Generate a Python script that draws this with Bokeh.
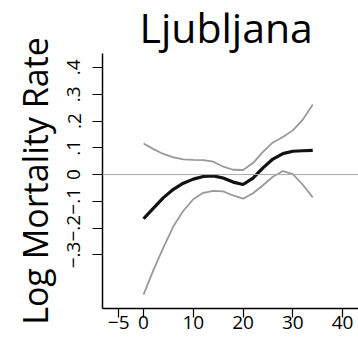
from bokeh.plotting import figure
from bokeh.models import Range1d, FixedTicker, Span
from bokeh.embed import file_html
from bokeh.resources import INLINE

# Temperature grid (°C) and smoothed log mortality rate with confidence bounds
temp = [0, 2, 4, 6, 8, 10, 12, 14, 16, 18, 20, 22, 24, 26, 28, 30, 32, 34]
fit = [-0.165, -0.125, -0.086, -0.055, -0.032, -0.017, -0.007, -0.005, -0.013,
       -0.028, -0.037, -0.013, 0.025, 0.058, 0.078, 0.087, 0.089, 0.090]
upper = [0.116, 0.095, 0.077, 0.064, 0.057, 0.055, 0.054, 0.048, 0.030,
         0.018, 0.017, 0.043, 0.085, 0.120, 0.140, 0.165, 0.205, 0.262]
lower = [-0.448, -0.356, -0.272, -0.193, -0.135, -0.092, -0.068, -0.061, -0.063,
         -0.078, -0.090, -0.070, -0.040, -0.008, 0.013, 0.002, -0.038, -0.085]

x_ticks = [-5, 0, 10, 20, 30, 40]
x_labels = ["\u22125", "0", "10", "20", "30", "40"]
y_ticks = [-0.3, -0.2, -0.1, 0.0, 0.1, 0.2, 0.3, 0.4]
y_labels = ["\u2212.3", "\u2212.2", "\u2212.1", "0", ".1", ".2", ".3", ".4"]

FONT = "Open Sans"

p = figure(width=358, height=341, output_backend="svg", toolbar_location=None,
           x_range=Range1d(-8.25, 43.2), y_range=Range1d(-0.50, 0.452),
           min_border_left=102, min_border_right=0, min_border_top=53,
           min_border_bottom=33, title="Ljubljana")

p.title.text_font = FONT
p.title.text_font_size = "41px"
p.title.text_font_style = "normal"
p.title.text_color = "black"
p.title.align = "left"
p.title.offset = 37
p.title.vertical_align = "top"
p.title.standoff = -6

p.grid.visible = False
p.outline_line_color = None
p.background_fill_color = "white"

# axes
for ax in (p.xaxis[0], p.yaxis[0]):
    ax.axis_line_color = "black"
    ax.axis_line_width = 1.5
    ax.major_tick_line_color = "black"
    ax.major_tick_line_width = 1.2
    ax.minor_tick_line_color = None
    ax.major_tick_in = 0
    ax.major_label_text_font = FONT
    ax.major_label_text_font_size = "19px"
    ax.major_label_text_color = "black"

p.xaxis.ticker = FixedTicker(ticks=x_ticks)
p.xaxis.major_label_overrides = dict(zip(x_ticks, x_labels))
p.xaxis.major_tick_out = 9
p.xaxis.major_label_standoff = -2

p.yaxis.ticker = FixedTicker(ticks=y_ticks)
p.yaxis.major_label_overrides = dict(zip(y_ticks, y_labels))
p.yaxis.major_label_orientation = "vertical"
p.yaxis.major_tick_out = 10
p.yaxis.major_label_standoff = 12
p.yaxis.axis_label = "Log Mortality Rate"
p.yaxis.axis_label_text_font = FONT
p.yaxis.axis_label_text_font_size = "34px"
p.yaxis.axis_label_text_font_style = "normal"
p.yaxis.axis_label_text_color = "black"
p.yaxis.axis_label_standoff = 7

# reference line at zero
p.add_layout(Span(location=0, dimension="width", line_color="#aaaaaa", line_width=1))

# confidence bounds and fitted curve
p.line(temp, upper, line_color="#999999", line_width=1.8)
p.line(temp, lower, line_color="#999999", line_width=1.8)
p.line(temp, fit, line_color="#111111", line_width=3.2)

open("out.html", "w").write(file_html(p, INLINE))
